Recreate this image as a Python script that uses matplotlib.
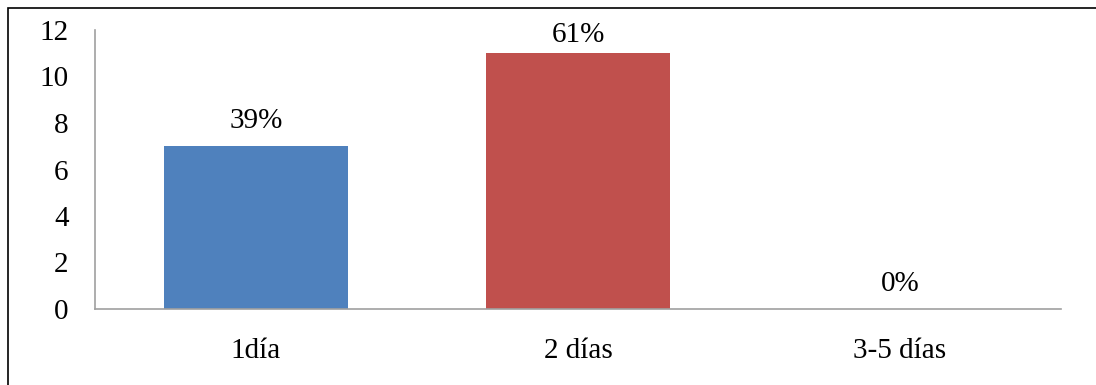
import matplotlib
matplotlib.use('Agg')
import matplotlib.pyplot as plt
from matplotlib.patches import Rectangle

# chart data
categories = ['1día', '2 días', '3-5 días']
values = [7, 11, 0]
labels = ['39%', '61%', '0%']
colors = ['#4F81BD', '#C0504D', '#9BBB59']

plt.rcParams['font.family'] = ['Liberation Serif', 'DejaVu Serif']

fig = plt.figure(figsize=(10.96, 3.85), dpi=100)
ax = fig.add_axes([95 / 1096, 76 / 385, 966 / 1096, 279 / 385])

x = range(len(categories))
ax.bar(x, values, width=0.57, color=colors)
# labels sit above the bars, pushed down when they hit the top of the plot area
for i, (v, lab) in enumerate(zip(values, labels)):
    ax.text(i, min(v + 0.77, 11.5), lab, ha='center', va='baseline', fontsize=21)

ax.set_xlim(-0.5, 2.5)
ax.set_ylim(0, 12)
ax.set_yticks(range(0, 13, 2))
ax.set_xticks(list(x))
ax.set_xticklabels(categories)
ax.tick_params(axis='both', length=0, labelsize=21)
ax.tick_params(axis='y', pad=19)
ax.tick_params(axis='x', pad=21)
for side in ['top', 'right']:
    ax.spines[side].set_visible(False)
for side in ['left', 'bottom']:
    ax.spines[side].set_color('#a0a0a0')
    ax.spines[side].set_linewidth(1.2)

# outer border (only left and top edges are inside the image)
fig.patches.append(Rectangle((8 / 1096, -0.05), 1.1, 1.05 - 8 / 385,
                             transform=fig.transFigure, fill=False,
                             edgecolor='black', linewidth=1.2))

fig.savefig('out.png', dpi=100)
